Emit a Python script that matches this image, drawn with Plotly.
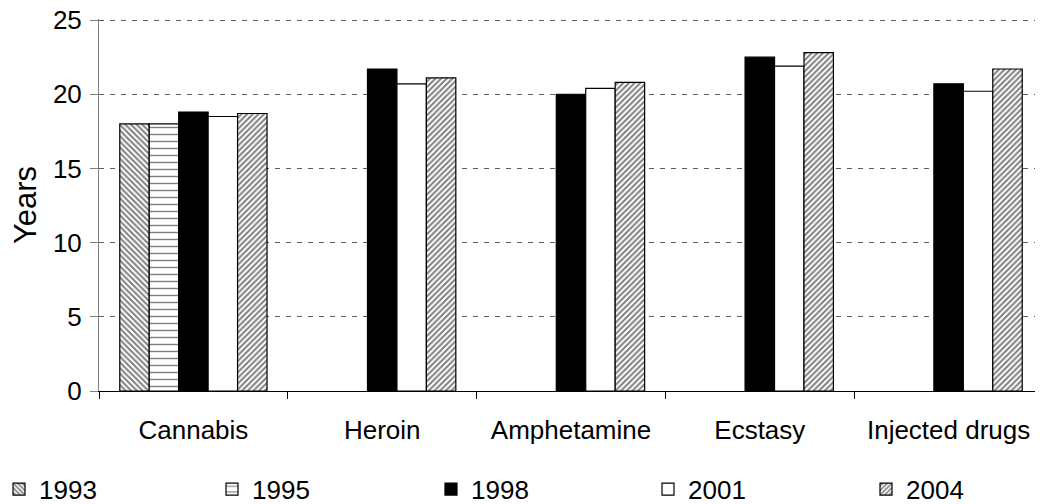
"""Age at first use by drug type, grouped bars with hatched fills."""
import plotly.graph_objects as go

categories = ["Cannabis", "Heroin", "Amphetamine", "Ecstasy", "Injected drugs"]
years = ["1993", "1995", "1998", "2001", "2004"]

v1993 = [18.0, None, None, None, None]
v1995 = [18.0, None, None, None, None]
v1998 = [18.8, 21.7, 20.0, 22.5, 20.7]
v2001 = [18.5, 20.7, 20.4, 21.9, 20.2]
v2004 = [18.7, 21.1, 20.8, 22.8, 21.7]

y_ticks = [0, 5, 10, 15, 20, 25]

FONT = "Liberation Sans, Arial, sans-serif"
FSIZE = 26

STYLES = {
    "1993": dict(color="white", pattern=dict(shape="\\", size=4, solidity=0.5, fgcolor="black", bgcolor="white")),
    "1995": dict(color="white", pattern=dict(shape="-", size=7, solidity=0.2, fgcolor="black", bgcolor="white")),
    "1998": dict(color="black"),
    "2001": dict(color="white"),
    "2004": dict(color="white", pattern=dict(shape="/", size=4, solidity=0.5, fgcolor="black", bgcolor="white")),
}

# the page body adds an 8px offset, so the figure is 8px smaller
W, H = 1035, 496
PLOT_L, PLOT_W = 91, 944
# left edge (figure px) of each legend box, one legend per year
LEGEND_PX = [-9, 204, 423, 640, 858]

fig = go.Figure()
legend_layouts = {}
for i, (year, vals) in enumerate(zip(years, [v1993, v1995, v1998, v2001, v2004])):
    st = STYLES[year]
    lname = "legend" if i == 0 else f"legend{i + 1}"
    fig.add_trace(go.Bar(
        x=categories, y=vals, name=year, legend=lname,
        marker=dict(color=st["color"], pattern=st.get("pattern"),
                    line=dict(color="black", width=1.2)),
    ))
    legend_layouts[lname] = dict(
        x=(LEGEND_PX[i] - PLOT_L) / PLOT_W, xanchor="left",
        y=-0.264, yanchor="middle",
        orientation="h",
        bgcolor="rgba(0,0,0,0)",
        font=dict(family=FONT, size=FSIZE, color="black"),
    )

fig.update_layout(
    width=W, height=H,
    autosize=False,
    margin=dict(l=PLOT_L, r=0, t=11, b=113, autoexpand=False),
    paper_bgcolor="white",
    plot_bgcolor="white",
    barmode="group",
    bargap=0.22,
    bargroupgap=0,
    font=dict(family=FONT, size=FSIZE, color="black"),
    showlegend=True,
    **legend_layouts,
)

fig.update_xaxes(
    range=[-0.5, 4.5],
    showline=True, linecolor="black", linewidth=1,
    ticks="outside", tickson="boundaries", ticklen=7, tickcolor="black",
    ticklabelstandoff=16,
    showgrid=False,
)
fig.update_yaxes(
    range=[0, 25.07],
    tickvals=y_ticks,
    showline=True, linecolor="#808080", linewidth=1,
    ticks="outside", ticklen=8, tickcolor="#808080",
    ticklabelstandoff=3,
    ticklabeloverflow="allow",
    showgrid=True, gridcolor="#606060", gridwidth=1, griddash="5px,6px",
    zeroline=False,
    title=dict(text="Years", standoff=10),
)

fig.write_html("out.html")
